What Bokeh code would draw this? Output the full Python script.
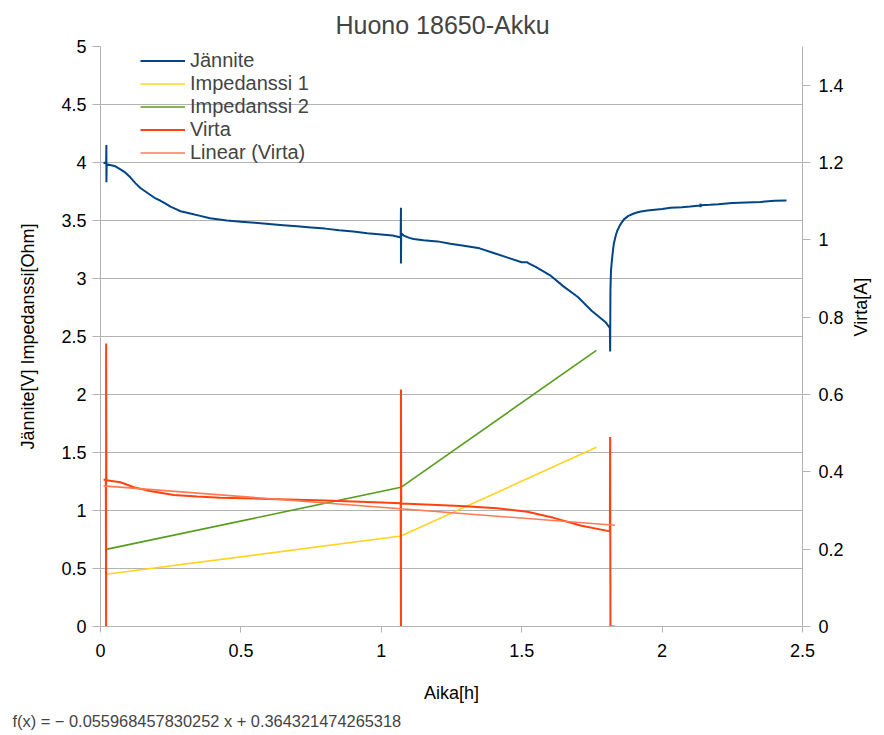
from bokeh.plotting import figure
from bokeh.models import (Range1d, LinearAxis, FixedTicker, CustomJSTickFormatter,
                          Legend, LegendItem, Title)
from bokeh.embed import file_html
from bokeh.resources import INLINE

# ---------------- data ----------------
volt_t = [0.011, 0.020, 0.021, 0.021, 0.022, 0.05, 0.071, 0.09, 0.107, 0.125, 0.142, 0.16,
          0.178, 0.196, 0.214, 0.232, 0.249, 0.267, 0.285, 0.32, 0.355, 0.39, 0.45, 0.5,
          0.55, 0.6, 0.65, 0.7, 0.75, 0.8, 0.85, 0.9, 0.95, 1.0, 1.04, 1.066,
          1.069, 1.070, 1.070, 1.071, 1.08, 1.1, 1.115, 1.15, 1.2, 1.246, 1.3, 1.35,
          1.4, 1.45, 1.5, 1.52, 1.525, 1.55, 1.6, 1.65, 1.7, 1.75, 1.8, 1.812,
          1.814, 1.815, 1.816, 1.818, 1.823, 1.828, 1.835, 1.84, 1.85, 1.864, 1.88,
          1.899, 1.92, 1.947, 2.0, 2.03, 2.07, 2.1, 2.136, 2.137, 2.137, 2.138,
          2.17, 2.2, 2.25, 2.3, 2.35, 2.4, 2.443]
volt_v = [4.00, 3.99, 4.15, 3.83, 3.985, 3.97, 3.94, 3.91, 3.87, 3.82, 3.78, 3.75,
          3.72, 3.69, 3.67, 3.645, 3.62, 3.60, 3.58, 3.56, 3.54, 3.52, 3.50, 3.49,
          3.48, 3.47, 3.46, 3.45, 3.44, 3.43, 3.415, 3.405, 3.39, 3.38, 3.37, 3.355,
          3.36, 3.61, 3.13, 3.39, 3.37, 3.35, 3.34, 3.33, 3.32, 3.30, 3.28, 3.26,
          3.22, 3.18, 3.14, 3.14, 3.13, 3.10, 3.03, 2.93, 2.84, 2.72, 2.62, 2.58,
          2.57, 2.37, 2.90, 3.07, 3.20, 3.30, 3.37, 3.41, 3.46, 3.51, 3.54,
          3.56, 3.575, 3.586, 3.60, 3.61, 3.615, 3.62, 3.63, 3.645, 3.615, 3.632,
          3.635, 3.64, 3.65, 3.655, 3.66, 3.67, 3.672]

imp_t = [0.02, 1.07, 1.766]
imp1 = [0.45, 0.78, 1.545]
imp2 = [0.665, 1.20, 2.38]

virta_t = [0.011, 0.019, 0.020, 0.020, 0.021, 0.071, 0.119, 0.166, 0.261, 0.344, 0.427,
           0.6, 0.8, 1.0, 1.069, 1.070, 1.070, 1.071, 1.2, 1.3, 1.412, 1.52, 1.614,
           1.709, 1.814, 1.815, 1.816, 1.832]
virta_a = [0.380, 0.379, 0.0, 0.732, 0.378, 0.373, 0.360, 0.352, 0.340, 0.336, 0.333,
           0.330, 0.326, 0.321, 0.319, 0.0, 0.613, 0.318, 0.314, 0.311, 0.306, 0.297, 0.281,
           0.261, 0.246, 0.49, 0.0, 0.0]

trend_slope = -0.055968457830252
trend_icept = 0.364321474265318
trend_t = [0.011, 1.832]
trend_a = [trend_slope * t + trend_icept for t in trend_t]

x_ticks = [0, 0.5, 1, 1.5, 2, 2.5]
left_ticks = [0, 0.5, 1, 1.5, 2, 2.5, 3, 3.5, 4, 4.5, 5]
right_ticks = [0, 0.2, 0.4, 0.6, 0.8, 1.0, 1.2, 1.4]

FONT = "Liberation Sans"
GREY = "#b3b3b3"

p = figure(width=884, height=735, x_range=Range1d(0, 2.5), y_range=Range1d(0, 5),
           output_backend="svg", toolbar_location=None,
           min_border_left=100, min_border_right=82, min_border_top=46, min_border_bottom=109)
p.extra_y_ranges = {"virta": Range1d(0, 1.5)}
p.outline_line_color = None
p.background_fill_color = "white"
p.border_fill_color = "white"

p.title.text = "Huono 18650-Akku"
p.title.align = "left"
p.title.offset = 235
p.title.text_font = FONT
p.title.text_font_size = "25px"
p.title.text_font_style = "normal"
p.title.standoff = 16

fmt = CustomJSTickFormatter(code="return String(Math.round(tick*100)/100)")

def style_axis(ax):
    ax.axis_line_color = GREY
    ax.major_tick_line_color = GREY
    ax.minor_tick_line_color = None
    ax.major_tick_in = 0
    ax.major_tick_out = 8
    ax.major_label_text_font = FONT
    ax.major_label_text_font_size = "18px"
    ax.major_label_text_color = "black"
    ax.axis_label_text_font = FONT
    ax.axis_label_text_font_size = "18px"
    ax.axis_label_text_font_style = "normal"
    ax.axis_label_text_color = "black"
    ax.formatter = fmt

xa = p.xaxis[0]
xa.ticker = FixedTicker(ticks=x_ticks)
xa.axis_label = "Aika[h]"
style_axis(xa)
xa.major_tick_out = 6
xa.major_label_standoff = 11
xa.axis_label_standoff = 23

ya = p.yaxis[0]
ya.ticker = FixedTicker(ticks=left_ticks)
ya.axis_label = "Jännite[V] Impedanssi[Ohm]"
style_axis(ya)
ya.major_label_standoff = 6
ya.axis_label_standoff = 20

ra = LinearAxis(y_range_name="virta", ticker=FixedTicker(ticks=right_ticks),
                axis_label="Virta[A]")
style_axis(ra)
ra.major_label_standoff = 8
ra.axis_label_standoff = 14
ra.axis_label_orientation = 1.5707963
p.add_layout(ra, "right")

p.xgrid.visible = False
p.ygrid.ticker = FixedTicker(ticks=left_ticks)
p.ygrid.grid_line_color = GREY
p.ygrid.grid_line_width = 1

r_v = p.line(volt_t, volt_v, line_color="#004586", line_width=2)
r_i1 = p.line(imp_t, imp1, line_color="#ffd320", line_width=1.6)
r_i2 = p.line(imp_t, imp2, line_color="#579d1c", line_width=1.6)
r_a = p.line(virta_t, virta_a, line_color="#ff420e", line_width=2, y_range_name="virta")
r_tr = p.line(trend_t, trend_a, line_color="#ff7b55", line_width=1.6, y_range_name="virta")

legend = Legend(items=[
    LegendItem(label="Jännite", renderers=[r_v]),
    LegendItem(label="Impedanssi 1", renderers=[r_i1]),
    LegendItem(label="Impedanssi 2", renderers=[r_i2]),
    LegendItem(label="Virta", renderers=[r_a]),
    LegendItem(label="Linear (Virta)", renderers=[r_tr]),
], location=(38, 460))
legend.margin = 0
legend.padding = 2
legend.border_line_alpha = 0
legend.background_fill_alpha = 0
legend.label_text_font = FONT
legend.label_text_font_size = "20px"
legend.glyph_width = 45
legend.glyph_height = 23
legend.label_height = 23
legend.spacing = 0
legend.label_standoff = 5
p.add_layout(legend)

formula = Title(text="f(x) = − 0.055968457830252 x + 0.364321474265318", align="left",
                offset=-88, text_font=FONT, text_font_size="16.4px", text_font_style="normal",
                standoff=8)
p.add_layout(formula, "below")

open("out.html", "w").write(file_html(p, INLINE))
